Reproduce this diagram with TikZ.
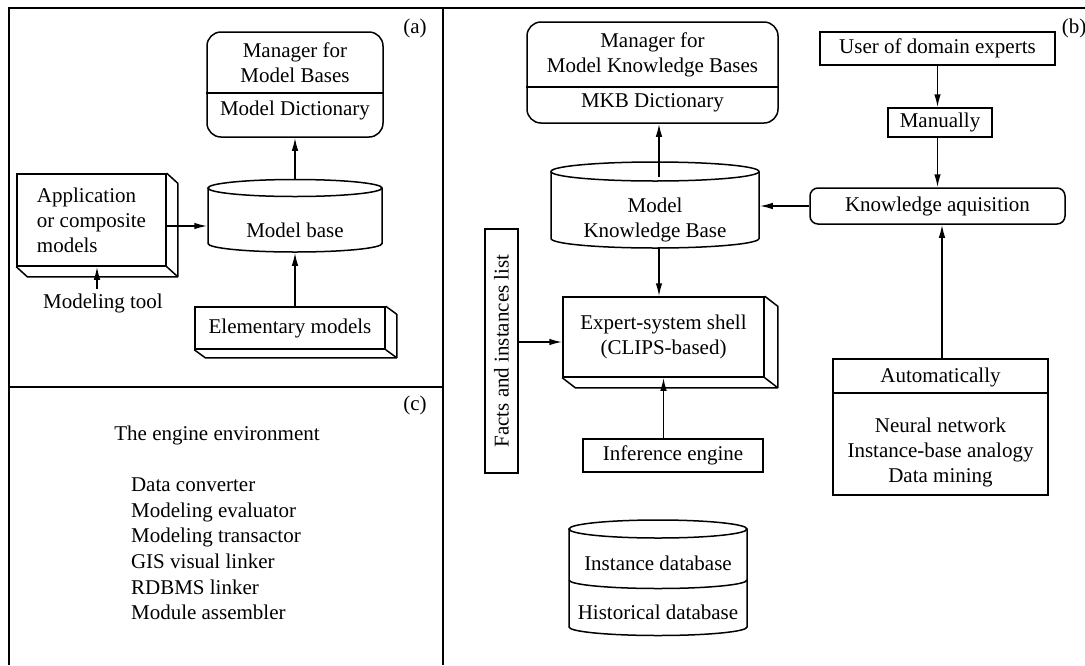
\documentclass[tikz,border=0pt]{standalone}
\usepackage{fontspec}
\setmainfont{Liberation Serif}
\usetikzlibrary{arrows.meta,calc}
\newcommand\fsz{\fontsize{21}{25}\selectfont}
% side and bottom faces of a raised box
\newcommand\extrude[3]{%
  \draw[line join=round] (#1.north east) -- ++(#2,#3) -- ($(#1.south east)+(#2,#3)$)
    -- ($(#1.south west)+(#2,#3)$) -- (#1.south west)
    (#1.south east) -- ++(#2,#3);}
\begin{document}
\begin{tikzpicture}[x=1pt,y=-1pt,line width=1.5pt,
  every node/.style={font=\fsz},
  box/.style={draw,inner sep=0pt},
  rbox/.style={box,rounded corners=14pt},
  hold/.style={inner sep=0pt},
  arr/.style={-{Latex[length=13pt,width=6.5pt]}}]
\useasboundingbox (0,0) rectangle (1085,665);

% panel frames
\draw (9,665) -- (9,8) -- (1085,8);
\draw (443,8) -- (443,665);
\draw (9,387) -- (443,387);
\node (la) at (415,28) {(a)};
\node (lb) at (1074,28) {(b)};
\node (lc) at (415,405) {(c)};

% ---------- (a) model bases ----------
\node[rbox,minimum width=176,minimum height=105] (mgrA) at (295,84.5) {};
\draw (mgrA.west |- 0,93) -- (mgrA.east |- 0,93);
\node[align=center] (mgrAt) at (295,63) {Manager for\\Model Bases};
\node (mgrAd) at (295,110) {Model Dictionary};

\node[hold,minimum width=174,minimum height=72] (mb) at (295,216) {};
\draw (295,188) ellipse[x radius=87,y radius=8.5];
\draw (208,188) -- (208,243.5) arc[start angle=180,end angle=0,x radius=87,y radius=8.5] -- (382,188);
\node (mbt) at (295,230) {Model base};

\node[box,minimum width=149,minimum height=92,align=left] (app) at (91.5,220)
  {Application\\or composite\\models};
\extrude{app}{11}{10}

\node[box,minimum width=190,minimum height=42] (elem) at (290,328) {Elementary models};
\extrude{elem}{11}{8}

\node (tool) at (103,303) {Modeling tool};

\draw[arr] (mb.north) -- (mgrA.south);
\draw[arr] (app.east |- 0,226) -- (mb.west |- 0,226);
\draw[arr] (elem.north -| mb.south) -- (mb.south);
\draw[arr] (tool.north -| 97,0) -- (app.south -| 97,0);

% ---------- (c) engine environment ----------
\node (envt) at (217,435) {The engine environment};
\node[align=left,anchor=west,font=\fontsize{21}{25.6}\selectfont] (envl) at (127,549)
  {Data converter\\Modeling evaluator\\Modeling transactor\\GIS visual linker\\RDBMS linker\\Module assembler};

% ---------- (b) model knowledge bases ----------
\node[rbox,minimum width=251,minimum height=101] (mgrB) at (652.5,72.5) {};
\draw (mgrB.west |- 0,87) -- (mgrB.east |- 0,87);
\node[align=center] (mgrBt) at (652.5,54.5) {Manager for\\Model Knowledge Bases};
\node (mgrBd) at (652.5,103) {MKB Dictionary};

\node[hold,minimum width=208,minimum height=86] (mkb) at (655,205) {};
\draw (655,171.5) ellipse[x radius=104,y radius=9.5];
\draw (551,171.5) -- (551,238.5) arc[start angle=180,end angle=0,x radius=104,y radius=9.5] -- (759,171.5);
\node[align=center] (mkbt) at (655,219.5) {Model\\Knowledge Base};
\coordinate (mkbup) at (659,177);
\coordinate (mkbdn) at (659,248);

\node[box,minimum width=201,minimum height=80,align=center] (shell) at (663.5,337)
  {Expert-system shell\\(CLIPS-based)};
\extrude{shell}{13}{10}

\node[box,minimum width=33,minimum height=244] (facts) at (501.5,351)
  {\rotatebox{90}{Facts and instances list}};

\node[box,minimum width=180,minimum height=33] (inf) at (673,455.5) {Inference engine};

\node[hold,minimum width=178,minimum height=115] (db) at (658,577.5) {};
\draw (658,529) ellipse[x radius=89,y radius=9];
\draw (569,529) -- (569,627) arc[start angle=180,end angle=0,x radius=89,y radius=8.5] -- (747,529);
\draw (569,580) arc[start angle=180,end angle=0,x radius=89,y radius=8.5];
\node (dbi) at (658,563) {Instance database};
\node (dbh) at (658,612) {Historical database};

\node[box,minimum width=235,minimum height=33] (user) at (937.5,48.5) {User of domain experts};
\node[box,minimum width=104,minimum height=29] (manual) at (940,122.5) {Manually};
\node[rbox,rounded corners=8pt,minimum width=255,minimum height=36] (ka) at (937.5,206) {Knowledge aquisition};

\node[box,minimum width=215,minimum height=136] (auto) at (940.5,427) {};
\draw (auto.west |- 0,393) -- (auto.east |- 0,393);
\node (autot) at (940.5,377) {Automatically};
\node[align=center] (autol) at (940.5,452) {Neural network\\Instance-base analogy\\Data mining};

\draw[arr] (mkbup) -- (mkbup |- mgrB.south);
\draw[arr] (mkbdn) -- (mkbdn |- shell.north);
\draw[arr] (facts.east |- 0,342) -- (shell.west |- 0,342);
\draw[arr] (inf.north -| shell.south) -- (shell.south);
\draw[arr] (user.south) -- (user.south |- manual.north);
\draw[arr] (manual.south -| user.south) -- (ka.north -| user.south);
\draw[arr] (ka.west) -- (mkb.east |- ka.west);
\draw[arr] (auto.north -| 942,0) -- (ka.south -| 942,0);
\end{tikzpicture}
\end{document}
